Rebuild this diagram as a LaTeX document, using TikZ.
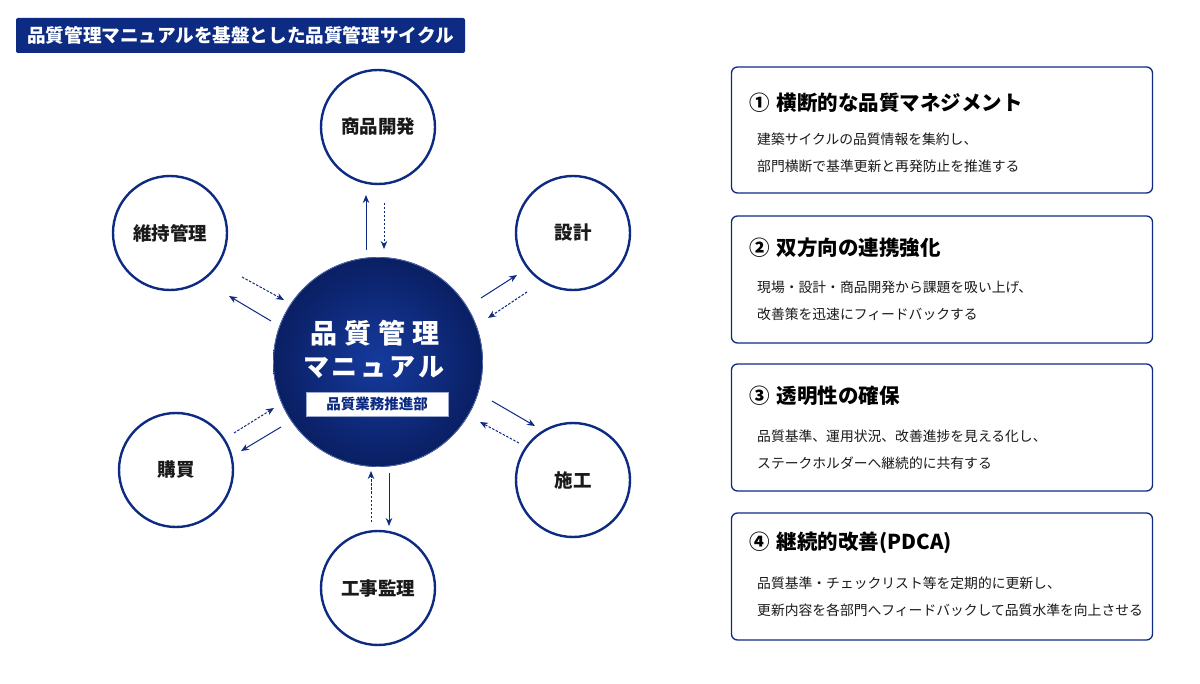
\documentclass[tikz,border=0pt]{standalone}
\usepackage{fontspec}
\setmainfont{Noto Sans CJK JP}
\usetikzlibrary{arrows.meta}
\definecolor{navy}{HTML}{0D2B82}
\definecolor{navyD}{HTML}{0A1F63}
\definecolor{navyL}{HTML}{153A9E}
\definecolor{txt}{HTML}{1A1A1A}
\tikzset{
  outer/.style={circle, draw=navy, line width=2.4pt, fill=white, minimum size=114pt, inner sep=0pt, text=txt, font=\fontsize{18.5}{20}\selectfont\bfseries},
  solidarr/.style={draw=navy, line width=1pt, -{Stealth[length=8pt,width=6.5pt]}},
  dasharr/.style={draw=navy, line width=1pt, dash pattern=on 2.5pt off 1.5pt, -{Stealth[length=8pt,width=6.5pt]}},
  infobox/.style={draw=navy, line width=1.3pt, rounded corners=6pt, fill=white},
  head/.style={anchor=west, inner sep=0pt, text=black, font=\fontsize{20.5}{23}\selectfont\bfseries},
  body/.style={anchor=west, inner sep=0pt, text=txt, font=\fontsize{13.8}{16}\selectfont},
}
\begin{document}
\begin{tikzpicture}[x=1pt,y=-1pt]
\useasboundingbox (0,0) rectangle (1200,684);
\fill[white] (0,0) rectangle (1200,684);
% title
\node[fill=navy, rounded corners=2pt, minimum width=449pt, minimum height=35pt, inner sep=0pt, text=white, font=\fontsize{18.6}{20}\selectfont\bfseries] (title) at (240.5,35.5) {品質管理マニュアルを基盤とした品質管理サイクル};
% center circle
\shade[inner color=navyL, outer color=navyD] (378,362) circle (105);
\draw[navyL!70!white, line width=0.6pt] (378,362) circle (104.5);
\node[circle, minimum size=210pt, inner sep=0pt] (center) at (378,362) {};
\node[text=white, font=\fontsize{27}{30}\selectfont\bfseries, inner sep=0pt] (c1) at (375,333) {品\kern7pt 質\kern7pt 管\kern7pt 理};
\node[text=white, font=\fontsize{26}{29}\selectfont\bfseries, inner sep=0pt] (c2) at (374,367) {マ\kern3pt ニ\kern3pt ュ\kern3pt ア\kern3pt ル};
\node[fill=white, draw=navy!40, line width=0.5pt, minimum width=142pt, minimum height=24pt, inner sep=0pt, text=navy, font=\fontsize{14.5}{16}\selectfont\bfseries] (dept) at (377,404) {品質業務推進部};
% outer nodes
\node[outer] (shohin) at (378,127) {商品開発};
\node[outer] (sekkei) at (573,233) {設計};
\node[outer] (seko) at (573,480) {施工};
\node[outer] (kanri) at (378,588) {工事監理};
\node[outer] (kobai) at (176,470) {購買};
\node[outer] (iji) at (170,233) {維持管理};
% arrow endpoints
\coordinate (a1s) at (366,250); \coordinate (a1e) at (366,195);
\coordinate (b1s) at (384,203); \coordinate (b1e) at (384,249);
\coordinate (a2s) at (481,298); \coordinate (a2e) at (517,275);
\coordinate (b2s) at (527,292); \coordinate (b2e) at (488,318);
\coordinate (a3s) at (492,401); \coordinate (a3e) at (535,426);
\coordinate (b3s) at (519,443); \coordinate (b3e) at (480,422);
\coordinate (a4s) at (389,473); \coordinate (a4e) at (389,526);
\coordinate (b4s) at (371,522); \coordinate (b4e) at (371,471);
\coordinate (a5s) at (281,427); \coordinate (a5e) at (241,451);
\coordinate (b5s) at (234,433); \coordinate (b5e) at (274,408);
\coordinate (a6s) at (271,321); \coordinate (a6e) at (229,296);
\coordinate (b6s) at (242,277); \coordinate (b6e) at (284,300);
\draw[solidarr] (a1s) -- (a1e);
\draw[dasharr] (b1s) -- (b1e);
\draw[solidarr] (a2s) -- (a2e);
\draw[dasharr] (b2s) -- (b2e);
\draw[solidarr] (a3s) -- (a3e);
\draw[dasharr] (b3s) -- (b3e);
\draw[solidarr] (a4s) -- (a4e);
\draw[dasharr] (b4s) -- (b4e);
\draw[solidarr] (a5s) -- (a5e);
\draw[dasharr] (b5s) -- (b5e);
\draw[solidarr] (a6s) -- (a6e);
\draw[dasharr] (b6s) -- (b6e);
% info boxes
\draw[infobox] (731.5,67) rectangle (1152.5,193);
\node[head] (h1) at (749,103) {①\kern7pt 横断的な品質マネジメント};
\node[body] (l1a) at (757,139) {建築サイクルの品質情報を集約し、};
\node[body] (l1b) at (757,166) {部門横断で基準更新と再発防止を推進する};
\draw[infobox] (731.5,216) rectangle (1152.5,343);
\node[head] (h2) at (749,248) {②\kern7pt 双方向の連携強化};
\node[body] (l2a) at (757,287) {現場・設計・商品開発から課題を吸い上げ、};
\node[body] (l2b) at (757,314) {改善策を迅速にフィードバックする};
\draw[infobox] (731.5,364) rectangle (1152.5,491);
\node[head] (h3) at (749,396) {③\kern7pt 透明性の確保};
\node[body] (l3a) at (757,436) {品質基準、運用状況、改善進捗を見える化し、};
\node[body] (l3b) at (757,463) {ステークホルダーへ継続的に共有する};
\draw[infobox] (731.5,513) rectangle (1152.5,640);
\node[head] (h4) at (749,543) {④\kern7pt 継続的改善(PDCA)};
\node[body] (l4a) at (757,583) {品質基準・チェックリスト等を定期的に更新し、};
\node[body] (l4b) at (757,610) {更新内容を各部門へフィードバックして品質水準を向上させる};
\end{tikzpicture}
\end{document}
